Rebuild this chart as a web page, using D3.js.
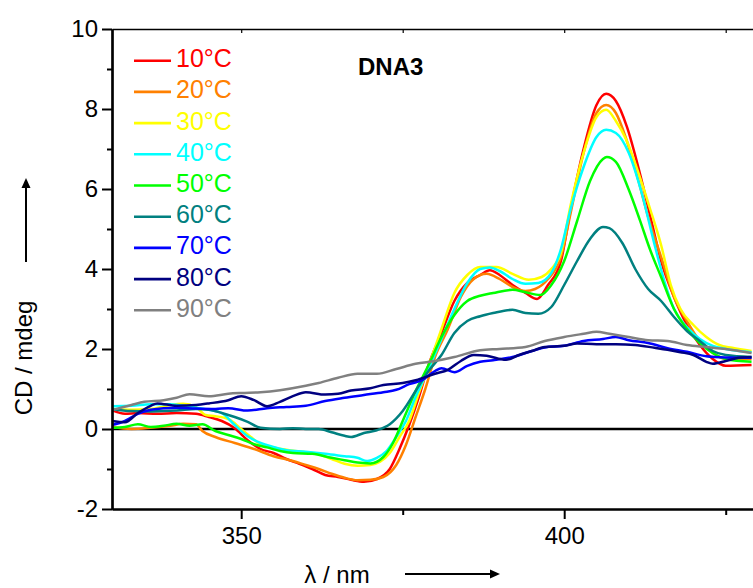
<!DOCTYPE html>
<html>
<head>
<meta charset="utf-8">
<script src="https://cdn.jsdelivr.net/npm/d3@7"></script>
<style>
  body { margin: 0; background: white; }
  svg { display: block; }
</style>
</head>
<body>
<div id="cd-chart"></div>
<script>
// Temperatures and colours for the legend
var temps = ["10°C", "20°C", "30°C", "40°C", "50°C", "60°C", "70°C", "80°C", "90°C"];
var colors = ["#ff0000", "#ff8000", "#ffff00", "#00ffff", "#00ff00", "#008080", "#0000ff", "#000080", "#808080"];

// Tick values
var xTicks = [350, 400];
var xMinorTicks = [375, 425];
var yTicks = [-2, 0, 2, 4, 6, 8, 10];
var yMinorTicks = [-1, 1, 3, 5, 7, 9];

// CD spectra, [wavelength nm, CD mdeg]
var cd10 = [[330,0.47],[332,0.38],[334,0.4],[337,0.38],[340,0.4],[343,0.38],[345,0.3],[347,0.2],[349,0.02],[351,-0.28],[353,-0.5],[355,-0.6],[357,-0.75],[359,-0.87],[361,-1.0],[363,-1.15],[365,-1.2],[367,-1.27],[369,-1.32],[371,-1.25],[373,-1.0],[374.5,-0.5],[376,0.1],[377.5,0.8],[379,1.6],[381,2.4],[383,3.2],[385,3.65],[387,3.85],[388.5,3.97],[390,3.85],[392,3.6],[394,3.4],[395.8,3.25],[397.5,3.6],[399.5,4.2],[401,5.5],[403,7.0],[405,8.1],[406.5,8.38],[408,8.2],[409.7,7.56],[411.7,6.4],[413.5,5.2],[415,4.2],[417,3.3],[419,2.6],[421,2.1],[423,1.75],[425,1.58],[429,1.6]];
var cd20 = [[330,0.05],[333,0.0],[336,0.03],[339,0.08],[341,0.13],[343,0.12],[344,-0.05],[346,-0.2],[349,-0.35],[352,-0.5],[355,-0.68],[358,-0.8],[360,-0.9],[362,-1.0],[364,-1.12],[366,-1.22],[368,-1.28],[370,-1.27],[372,-1.2],[374,-0.9],[375.5,-0.4],[377,0.3],[378.5,1.0],[380,1.8],[382,2.5],[384,3.3],[386,3.75],[388,3.88],[390,3.75],[392,3.55],[394,3.45],[395.5,3.5],[397.5,3.75],[399.5,4.3],[401,5.4],[403,6.9],[405,7.9],[406.5,8.1],[408,7.9],[409.5,7.3],[411.5,6.2],[413,5.3],[415,4.3],[417,3.3],[419,2.7],[421,2.2],[423,1.9],[425,1.75],[429,1.75]];
var cd30 = [[330,0.5],[333,0.48],[336,0.5],[339,0.6],[341,0.63],[343,0.55],[344.5,0.35],[346,0.32],[348,0.25],[350,0.0],[351.5,-0.2],[353,-0.38],[355,-0.46],[357,-0.52],[360,-0.58],[362,-0.63],[364,-0.75],[366,-0.87],[368,-0.92],[370,-0.9],[371.5,-0.82],[373,-0.6],[374.5,-0.2],[376,0.2],[377.5,0.9],[379.5,1.8],[381,2.5],[383,3.4],[385,3.85],[387,4.05],[389.5,4.05],[392,3.88],[394.5,3.73],[396.5,3.8],[398,4.0],[399.5,4.4],[401,5.6],[403,6.9],[405,7.8],[406.5,7.98],[408,7.7],[409.7,7.2],[411.7,6.3],[413.3,5.5],[415,4.6],[416.5,3.6],[418,3.0],[420,2.6],[422,2.3],[424,2.1],[426,2.03],[429,1.95]];
var cd40 = [[330,0.57],[333,0.58],[336,0.62],[339,0.62],[342,0.56],[345,0.48],[347,0.4],[349,0.1],[351,-0.18],[353,-0.35],[355,-0.45],[357,-0.53],[360,-0.57],[363,-0.62],[366,-0.68],[368,-0.72],[369.5,-0.8],[371,-0.72],[372.5,-0.55],[374,-0.2],[375.5,0.2],[377,0.8],[379,1.5],[381,2.25],[383,3.0],[385,3.65],[387,4.0],[388.5,4.04],[390,3.95],[392,3.75],[394,3.63],[396,3.65],[398,3.9],[399.5,4.5],[401,5.5],[403,6.55],[405,7.3],[406.5,7.48],[408,7.4],[410,6.9],[412,5.9],[414,4.6],[415.5,3.7],[417,3.0],[419,2.55],[421,2.25],[423,2.08],[425,2.0],[427,1.95],[429,1.92]];
var cd50 = [[330,0.03],[332,0.05],[334,0.12],[336,0.05],[338,0.08],[340,0.13],[342,0.08],[344,0.12],[346,-0.05],[348,-0.15],[350,-0.25],[352,-0.38],[354,-0.46],[356,-0.55],[358,-0.6],[361,-0.62],[364,-0.72],[366,-0.78],[368,-0.84],[370,-0.86],[372,-0.7],[373.5,-0.35],[375,0.2],[377,0.95],[379,1.6],[381,2.3],[383,2.85],[385,3.2],[387,3.33],[389,3.4],[392,3.48],[394,3.42],[396.3,3.35],[398,3.6],[400,4.2],[402,5.2],[404,6.2],[406,6.75],[406.6,6.8],[408,6.68],[410,5.98],[411.7,5.23],[413.3,4.48],[415,3.8],[417,3.0],[419,2.5],[421,2.15],[423,1.9],[425,1.75],[429,1.68]];
var cd60 = [[330,0.49],[333,0.45],[336,0.44],[340,0.46],[343,0.5],[345,0.48],[347,0.4],[349,0.3],[351,0.18],[353,0.03],[356,0.0],[358,0.02],[360,0.0],[362,0.0],[364,-0.08],[366,-0.17],[367,-0.2],[369,-0.1],[371,-0.03],[373,0.12],[375,0.45],[377,0.95],[379,1.45],[381,1.85],[383,2.4],[385,2.7],[387,2.82],[389,2.9],[392,2.98],[394,2.9],[396,2.88],[398,3.05],[400,3.6],[402,4.2],[404,4.75],[406,5.05],[407,5.02],[409,4.65],[411,4.0],[413,3.5],[415,3.2],[417,2.8],[419,2.45],[421,2.2],[423,1.95],[425,1.85],[429,1.8]];
var cd70 = [[330,0.1],[332,0.2],[334,0.38],[336,0.48],[338,0.52],[340,0.53],[343,0.51],[346,0.5],[348,0.52],[351,0.46],[354,0.52],[357,0.55],[360,0.58],[363,0.7],[366,0.78],[369,0.85],[372,0.92],[374,0.98],[376,1.12],[378,1.22],[380,1.45],[381,1.52],[383,1.42],[385,1.58],[387,1.68],[389,1.72],[392,1.8],[395,1.95],[397,2.04],[400,2.08],[403,2.2],[406,2.25],[408,2.3],[410,2.22],[413,2.15],[416,2.02],[419,1.93],[422,1.82],[425,1.79],[429,1.78]];
var cd80 = [[330,0.2],[332,0.17],[334,0.4],[336,0.58],[337,0.64],[340,0.58],[343,0.6],[345,0.64],[348,0.72],[350,0.82],[352,0.72],[354,0.57],[356,0.68],[358,0.82],[360,0.92],[363,0.86],[365,0.88],[367,0.96],[370,1.02],[372,1.1],[375,1.15],[377,1.22],[380,1.38],[382,1.48],[384,1.7],[386,1.85],[388,1.83],[391,1.73],[393,1.85],[395,1.95],[397,2.05],[400,2.08],[402,2.14],[405,2.12],[408,2.12],[411,2.1],[414,2.03],[416,1.98],[418,1.92],[420,1.85],[422,1.68],[423,1.63],[425,1.7],[427,1.78],[429,1.8]];
var cd90 = [[330,0.47],[333,0.6],[335,0.68],[338,0.72],[340,0.78],[342,0.87],[345,0.82],[348,0.88],[350,0.9],[353,0.92],[356,0.97],[360,1.08],[362,1.15],[365,1.28],[368,1.38],[371,1.38],[374,1.5],[377,1.63],[380,1.7],[383,1.8],[387,1.97],[390,2.0],[394,2.05],[397,2.2],[400,2.3],[403,2.38],[405,2.43],[407,2.38],[410,2.3],[413,2.22],[416,2.2],[419,2.1],[422,2.05],[425,2.0],[429,1.9]];

var series = [cd10, cd20, cd30, cd40, cd50, cd60, cd70, cd80, cd90];

var drawChart = function(){
	var fontFamily = "'Liberation Sans', Arial, Helvetica, sans-serif";
	const width = 753;
	const height = 588;

	var svg = d3.select('#cd-chart')
		.append('svg')
		.attr("width", width)
		.attr("height", height)
		.style("font-family", fontFamily);

	// Plot area; right frame falls just outside the picture
	var x = d3.scaleLinear().domain([330, 430]).range([112, 758]);
	var y = d3.scaleLinear().domain([-2, 10]).range([509, 29]);

	svg.append("clipPath").attr("id", "plot-clip")
		.append("rect")
		.attr("x", 112).attr("y", 29)
		.attr("width", 646).attr("height", 480);

	// Top frame with small inward ticks
	svg.append("g")
		.attr("transform", "translate(0," + y(10) + ")")
		.call(d3.axisTop(x).tickValues(xTicks.concat(xMinorTicks)).tickSize(-4).tickSizeOuter(0).tickFormat(""))
		.call(g => g.select(".domain").attr("stroke-width", 1.5))
		.call(g => g.selectAll(".tick line").attr("stroke-width", 1.2));

	// Zero line
	svg.append("line")
		.attr("x1", x(330)).attr("x2", x(430))
		.attr("y1", y(0)).attr("y2", y(0))
		.attr("stroke", "black")
		.attr("stroke-width", 2.5);

	// Spectra
	var line = d3.line()
		.x(function(d){ return x(d[0]); })
		.y(function(d){ return y(d[1]); })
		.curve(d3.curveMonotoneX);

	svg.append("g")
		.attr("clip-path", "url(#plot-clip)")
		.selectAll("path")
		.data(series)
		.enter().append("path")
		.attr("d", line)
		.attr("fill", "none")
		.attr("stroke", function(d, i){ return colors[i]; })
		.attr("stroke-width", 2.5)
		.attr("stroke-linejoin", "round");

	// Y axis (plain hyphen for negatives, as in the original)
	var yAxis = svg.append("g")
		.attr("transform", "translate(" + x(330) + ",0)");
	yAxis.call(d3.axisLeft(y).tickValues(yMinorTicks).tickSize(5).tickSizeOuter(0).tickFormat(""));
	yAxis.append("g")
		.call(d3.axisLeft(y).tickValues(yTicks).tickSize(10).tickPadding(4).tickSizeOuter(0).tickFormat(function(d){ return String(d); }));
	yAxis.selectAll(".domain").attr("stroke-width", 2.2);
	yAxis.selectAll(".tick line").attr("stroke-width", 2);
	yAxis.selectAll("text").attr("font-size", 24).attr("font-family", fontFamily).attr("fill", "black");

	// X axis
	var xAxis = svg.append("g")
		.attr("transform", "translate(0," + y(-2) + ")");
	xAxis.call(d3.axisBottom(x).tickValues(xMinorTicks).tickSize(6).tickSizeOuter(0).tickFormat(""));
	xAxis.append("g")
		.call(d3.axisBottom(x).tickValues(xTicks).tickSize(10).tickPadding(8).tickSizeOuter(0).tickFormat(function(d){ return String(d); }));
	xAxis.selectAll(".domain").attr("stroke-width", 2.2);
	xAxis.selectAll(".tick line").attr("stroke-width", 2);
	xAxis.selectAll("text").attr("font-size", 24).attr("font-family", fontFamily).attr("fill", "black");

	// Legend
	var legend = svg.append("g");
	var rowY = function(i){ return 60.7 + i * 31.2; };
	legend.selectAll("line")
		.data(temps)
		.enter().append("line")
		.attr("x1", 134).attr("x2", 171)
		.attr("y1", function(d, i){ return rowY(i); })
		.attr("y2", function(d, i){ return rowY(i); })
		.attr("stroke", function(d, i){ return colors[i]; })
		.attr("stroke-width", 2.6);
	legend.selectAll("text")
		.data(temps)
		.enter().append("text")
		.attr("x", 176)
		.attr("y", function(d, i){ return rowY(i) + 6.5; })
		.attr("font-size", 25)
		.attr("fill", function(d, i){ return colors[i]; })
		.text(function(d){ return d; });

	// Sample label
	svg.append("text")
		.attr("x", 358).attr("y", 75)
		.attr("font-size", 24)
		.attr("font-weight", "bold")
		.text("DNA3");

	// Axis titles with arrows
	svg.append("text")
		.attr("transform", "translate(32,358) rotate(-90)")
		.attr("text-anchor", "middle")
		.attr("font-size", 24)
		.text("CD / mdeg");
	svg.append("line")
		.attr("x1", 26).attr("x2", 26).attr("y1", 262).attr("y2", 186)
		.attr("stroke", "black").attr("stroke-width", 2);
	svg.append("path")
		.attr("d", "M26,178 L21.5,188 L30.5,188 Z")
		.attr("fill", "black");

	svg.append("text")
		.attr("x", 337).attr("y", 583)
		.attr("text-anchor", "middle")
		.attr("font-size", 24)
		.text("λ / nm");
	svg.append("line")
		.attr("x1", 405).attr("x2", 492).attr("y1", 574).attr("y2", 574)
		.attr("stroke", "black").attr("stroke-width", 2);
	svg.append("path")
		.attr("d", "M500,574 L490,569.5 L490,578.5 Z")
		.attr("fill", "black");
}

drawChart();
</script>
</body>
</html>
